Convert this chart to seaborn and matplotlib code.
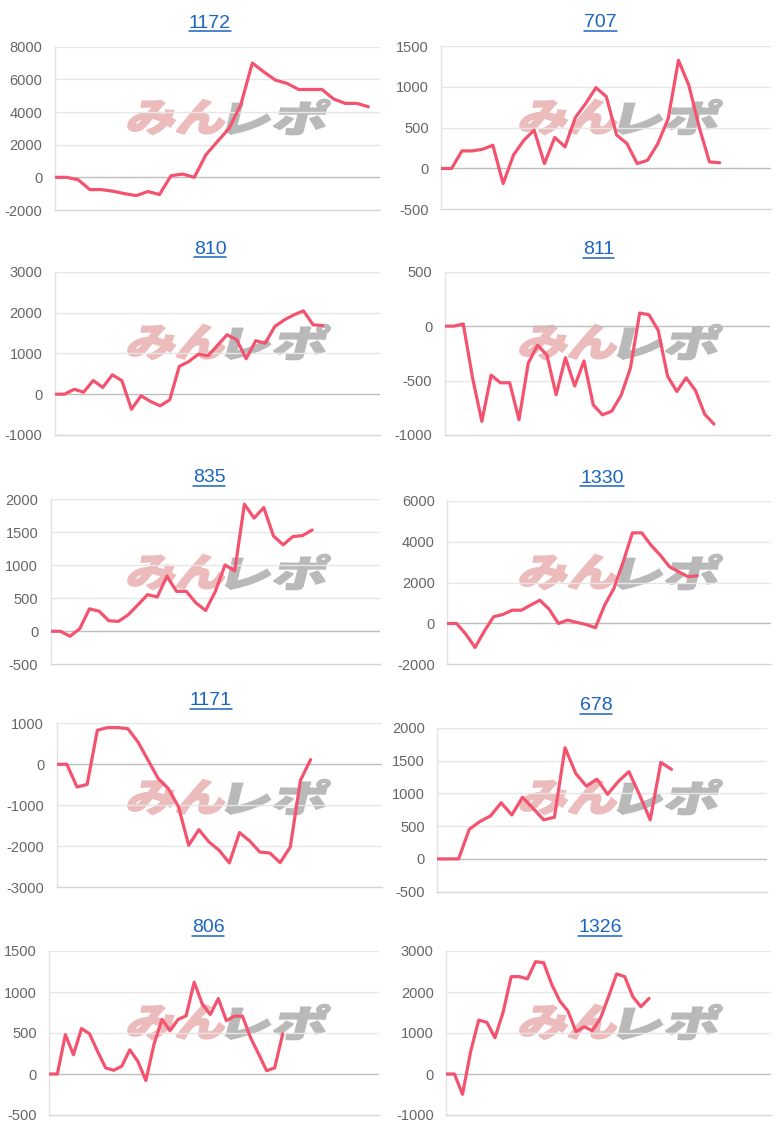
import numpy as np
import matplotlib
matplotlib.use("Agg")
import matplotlib.pyplot as plt
import seaborn as sns
from matplotlib.textpath import TextPath
from matplotlib.font_manager import FontProperties
from matplotlib.patches import PathPatch
from matplotlib.transforms import Affine2D, IdentityTransform
from matplotlib.lines import Line2D

# ---------------- data ----------------
titles = ["1172", "707", "810", "811", "835", "1330", "1171", "678", "806", "1326"]

s1172 = [0, 0, -150, -750, -750, -850, -1000, -1120, -870, -1050, 100, 200, 0, 1380,
         2200, 3000, 4430, 7000, 6450, 5950, 5750, 5380, 5380, 5380, 4800, 4530, 4530, 4320]
s707 = [0, 0, 215, 215, 235, 285, -185, 165, 345, 470, 60, 380, 265, 625, 795, 990, 880,
        410, 305, 60, 100, 305, 610, 1325, 1020, 510, 80, 70]
s810 = [0, 0, 120, 50, 335, 165, 475, 330, -370, -40, -180, -285, -140, 680, 800, 980,
        940, 1195, 1455, 1335, 870, 1310, 1250, 1660, 1820, 1945, 2040, 1700, 1680]
s811 = [0, 0, 20, -475, -875, -450, -520, -520, -860, -340, -175, -265, -630, -290, -550,
        -320, -725, -815, -780, -635, -385, 120, 105, -40, -460, -600, -475, -590, -810, -900]
s835 = [0, 0, -75, 40, 340, 305, 160, 150, 250, 400, 555, 520, 835, 605, 605, 430, 315,
        605, 1005, 915, 1925, 1715, 1875, 1445, 1310, 1435, 1450, 1535]
s1330 = [0, 0, -520, -1175, -375, 330, 440, 650, 650, 900, 1140, 700, 0, 165, 50, -50,
         -210, 900, 1720, 3020, 4440, 4440, 3840, 3350, 2780, 2530, 2290, 2340]
s1171 = [0, 0, -555, -490, 830, 895, 895, 870, 545, 100, -350, -595, -1040, -1975, -1595,
         -1895, -2100, -2405, -1665, -1870, -2140, -2165, -2400, -2015, -390, 115]
s678 = [0, 0, 0, 450, 570, 655, 855, 670, 940, 770, 595, 635, 1695, 1305, 1110, 1215, 985,
        1180, 1330, 975, 595, 1470, 1365]
s806 = [0, 0, 480, 235, 555, 490, 275, 75, 45, 95, 295, 155, -80, 360, 665, 530, 665, 710,
        1120, 855, 725, 920, 650, 705, 705, 445, 245, 40, 75, 490]
s1326 = [0, 0, -495, 545, 1315, 1260, 885, 1505, 2375, 2375, 2320, 2740, 2715, 2185, 1780,
         1535, 1030, 1155, 1055, 1355, 1885, 2440, 2375, 1885, 1640, 1845]

series = [s1172, s707, s810, s811, s835, s1330, s1171, s678, s806, s1326]
x_slots = [29, 33, 35, 36, 35, 36, 33, 32, 42, 41]
y_ranges = [(-2000, 8000, 2000), (-500, 1500, 500), (-1000, 3000, 1000), (-1000, 500, 500),
            (-500, 2000, 500), (-2000, 6000, 2000), (-3000, 1000, 1000), (-500, 2000, 500),
            (-500, 1500, 500), (-1000, 3000, 1000)]

# ---------------- layout (pixels) ----------------
W, H = 777, 1130
boxes = [  # left, right, top, bottom, title_x, title_y
    (55, 380, 46.7, 210, 210, 23.3),
    (441.3, 771.3, 46, 209.3, 600.7, 22.7),
    (55, 380, 271.7, 435, 210, 249),
    (444.7, 769.7, 271.7, 435, 598.7, 250),
    (50.7, 380, 499.3, 664.3, 209, 477.7),
    (447.3, 771.3, 501, 664.3, 602, 478.3),
    (56.7, 381.7, 723.3, 887.3, 210.7, 700.7),
    (437.3, 767.3, 727.7, 891.7, 596, 706),
    (49.3, 379.3, 951, 1115, 208, 927.7),
    (446.3, 770.7, 951, 1115, 600, 927.7),
]
row_tops = [0, 0, 225, 225, 455, 455, 680, 680, 905, 905]

sns.set_theme(style="white")
plt.rcParams["font.family"] = ["Liberation Sans", "DejaVu Sans"]
plt.rcParams["axes.unicode_minus"] = False

LINE_COLOR = "#f4536f"
TITLE_COLOR = "#1a65c0"
TICK_COLOR = "#666666"

fig = plt.figure(figsize=(W / 100, H / 100), dpi=100)
fig.patch.set_facecolor("white")

jp = FontProperties(family="Noto Sans CJK JP", weight="heavy")


def watermark_part(text, x0, x1, ycen, h, color):
    tp = TextPath((0, 0), text, size=50, prop=jp)
    ext = tp.get_extents()
    sx = (x1 - x0) / ext.width
    sy = h / ext.height
    tr = (Affine2D().translate(-ext.x0, -ext.y0).scale(sx, sy)
          .translate(0, -h / 2).skew_deg(14, 0)
          .translate(x0, H - ycen))
    p = PathPatch(tp, transform=tr + IdentityTransform(), facecolor=color,
                  edgecolor=color, linewidth=1.2, zorder=-1)
    fig.add_artist(p)


titles_artists = []
for i, (title, vals, nslot, (ylo, yhi, ystep), box) in enumerate(
        zip(titles, series, x_slots, y_ranges, boxes)):
    l, r, t, b, tx, ty = box
    ax = fig.add_axes([l / W, 1 - b / H, (r - l) / W, (b - t) / H])
    ax.set_facecolor("none")

    cx = 229 if i % 2 == 0 else 621
    wy = row_tops[i] + 117
    watermark_part("みん", cx - 99, cx - 3, wy, 35, "#ecbcbd")
    watermark_part("レポ", cx, cx + 98, wy, 35, "#b9b9b9")

    xs = np.arange(len(vals))
    sns.lineplot(x=xs, y=vals, ax=ax, color=LINE_COLOR, linewidth=2.3, zorder=3)
    ax.set_xlim(0, nslot - 1)
    ax.set_ylim(ylo, yhi)
    ticks = np.arange(ylo, yhi + 1, ystep)
    ax.set_yticks(ticks)
    ax.set_yticklabels([f"{int(v)}" for v in ticks])
    ax.set_xticks([])
    ax.set_xlabel("")
    ax.set_ylabel("")
    for tk in ticks:
        if tk == ylo:
            continue
        ax.axhline(tk, color="#bdbdbd" if tk == 0 else "#e6e6e6", linewidth=1.0, zorder=1)
    for side in ["top", "right"]:
        ax.spines[side].set_visible(False)
    ax.spines["left"].set_color("#e3e3e3")
    ax.spines["left"].set_linewidth(1.0)
    ax.spines["bottom"].set_color("#d6d6d6")
    ax.spines["bottom"].set_linewidth(1.0)
    ax.tick_params(axis="y", length=3, color="#e3e3e3", pad=6,
                   labelsize=10.5, labelcolor=TICK_COLOR)
    ax.tick_params(axis="x", length=0)

    txt = fig.text(tx / W, 1 - ty / H, title, ha="center", va="center",
                   fontsize=14, color=TITLE_COLOR)
    titles_artists.append(txt)

fig.canvas.draw()
renderer = fig.canvas.get_renderer()
for txt in titles_artists:
    bb = txt.get_window_extent(renderer)
    y = bb.y0 + 0.5
    fig.add_artist(Line2D([bb.x0 / W, bb.x1 / W], [y / H, y / H],
                          transform=fig.transFigure, color=TITLE_COLOR, linewidth=1.1))

fig.savefig("out.png", dpi=100, facecolor="white")
